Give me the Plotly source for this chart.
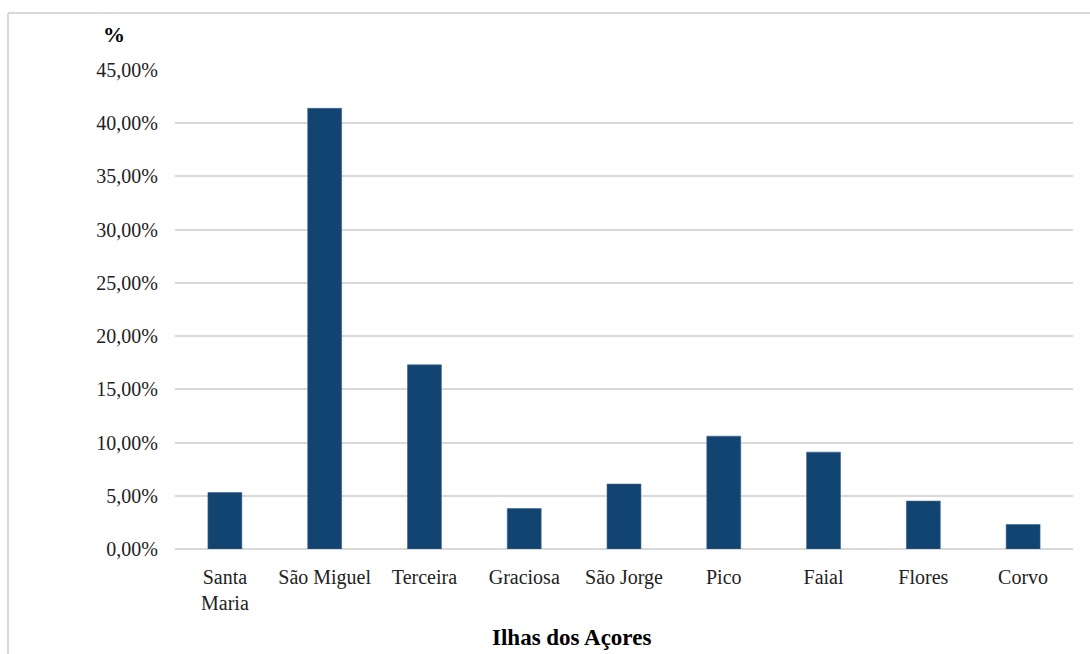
import plotly.graph_objects as go

# Share of each island (percent)
islands = ["Santa<br>Maria", "São Miguel", "Terceira", "Graciosa", "São Jorge",
           "Pico", "Faial", "Flores", "Corvo"]
shares = [5.3, 41.4, 17.3, 3.8, 6.1, 10.6, 9.1, 4.5, 2.3]
y_ticks = [0, 5, 10, 15, 20, 25, 30, 35, 40, 45]
y_tick_text = [f"{v:.2f}".replace(".", ",") + "%" for v in y_ticks]

W, H = 1090, 654
L, R, T, B = 175, 17, 70, 105
pw, ph = W - L - R, H - T - B

FONT = "Liberation Serif, Times New Roman, serif"

fig = go.Figure(go.Bar(
    x=islands, y=shares,
    marker=dict(color="#114470", line=dict(color="#3d6590", width=0.6)),
    width=0.34,
))

# frame around the chart (top and left edges visible)
bx = (8 - L) / pw
by = 1 + (T - 13) / ph
fig.add_shape(type="line", xref="paper", yref="paper", x0=bx, x1=2, y0=by, y1=by,
              line=dict(color="#d9d9d9", width=2))
fig.add_shape(type="line", xref="paper", yref="paper", x0=bx, x1=bx, y0=by, y1=-1,
              line=dict(color="#d9d9d9", width=2))

# unit label above the value axis
fig.add_annotation(text="<b>%</b>", xref="paper", yref="paper",
                   x=(114 - L) / pw, y=1 + (T - 35) / ph,
                   xanchor="center", yanchor="middle",
                   showarrow=False, font=dict(family=FONT, size=22, color="#000"))

# category axis title
fig.add_annotation(text="<b>Ilhas dos Açores</b>", xref="paper", yref="paper",
                   x=(571 - L) / pw, y=-(637 - (T + ph)) / ph,
                   xanchor="center", yanchor="middle",
                   showarrow=False, font=dict(family=FONT, size=23, color="#000"))

fig.update_layout(
    width=W, height=H,
    margin=dict(l=L, r=R, t=T, b=B),
    paper_bgcolor="white", plot_bgcolor="white",
    showlegend=False,
    font=dict(family=FONT, size=20, color="#222"),
    xaxis=dict(
        showgrid=False, showline=False, ticks="", ticklabelstandoff=14,
        tickfont=dict(family=FONT, size=20, color="#222"),
    ),
    yaxis=dict(
        range=[0, 45], tickvals=y_ticks, ticktext=y_tick_text,
        showgrid=True, gridcolor="#d9d9d9", gridwidth=2,
        zeroline=True, zerolinecolor="#d9d9d9", zerolinewidth=2,
        showline=False, ticks="", ticklabelstandoff=16,
        tickfont=dict(family=FONT, size=20, color="#222"),
    ),
)

fig.write_html("out.html")
